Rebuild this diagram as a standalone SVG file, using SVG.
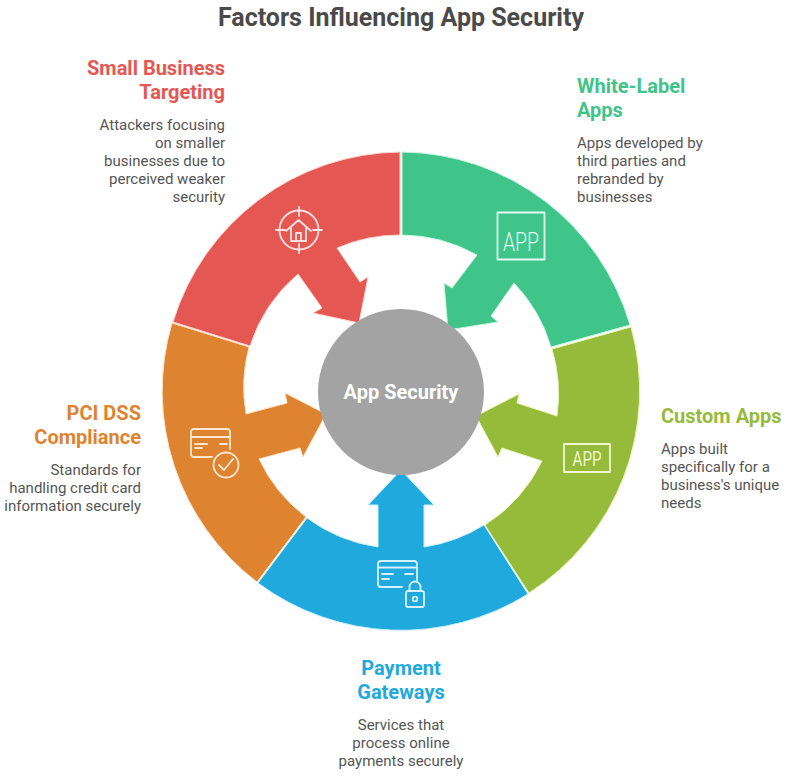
<svg xmlns="http://www.w3.org/2000/svg" width="790" height="777" viewBox="0 0 790 777">
<style>
text{font-family:Roboto,"Liberation Sans",sans-serif}
.title{font-size:25px;font-weight:700;fill:#4a4a4a;text-anchor:middle}
.head{font-size:20px;font-weight:700}
.desc{font-size:15px;fill:#555}
.end{text-anchor:end}.mid{text-anchor:middle}
.ico{fill:none;stroke-width:1.8;stroke-linecap:round;stroke-linejoin:round}
.app{font-size:25px;font-weight:300;text-anchor:middle}
</style>
<rect width="790" height="777" fill="#fff"/>
<text class="title" x="401" y="26">Factors Influencing App Security</text>
<g id="node-white-label">
<path fill="#3fc48a" stroke="#c5f5dd" stroke-width="1" d="M402 152A240 240 0 0 1 630 325L551 347A157 157 0 0 0 514 283L491 316L498 322L448 330L444 283L452 288L477 255A157 157 0 0 0 402 235Z"/>
<g class="ico" stroke="#e2faef"><rect x="497.500" y="212.500" width="47" height="47"/></g>
<text class="app" x="521" y="251" fill="#e2faef" textLength="36" lengthAdjust="spacingAndGlyphs">APP</text>
<text class="head" x="577" y="93" fill="#3fc48a">White-Label</text>
<text class="head" x="577" y="117" fill="#3fc48a">Apps</text>
<text class="desc" x="577" y="148">Apps developed by</text>
<text class="desc" x="577" y="166">third parties and</text>
<text class="desc" x="577" y="184">rebranded by</text>
<text class="desc" x="577" y="202">businesses</text>
</g>
<g id="node-custom">
<path fill="#96bb3b" stroke="#e6f5b5" stroke-width="1" d="M631 327A240 240 0 0 1 529 593L485 525A157 157 0 0 0 542 461L502 448L498 457L476 416L519 394L517 403L557 416A157 157 0 0 0 552 349Z"/>
<g class="ico" stroke="#eef7d2"><rect x="564" y="444" width="46" height="28"/></g>
<text class="app" x="587" y="466" style="font-size:20px;font-weight:400" fill="#eef7d2" textLength="29" lengthAdjust="spacingAndGlyphs">APP</text>
<text class="head" x="661" y="423" fill="#96bb3b">Custom Apps</text>
<text class="desc" x="661" y="454">Apps built</text>
<text class="desc" x="661" y="472">specifically for a</text>
<text class="desc" x="661" y="490">business's unique</text>
<text class="desc" x="661" y="508">needs</text>
</g>
<g id="node-payment">
<path fill="#1fa9dc" stroke="#c8eefb" stroke-width="1" d="M528 594A240 240 0 0 1 258 583L307 518A157 157 0 0 0 378 547L378 505L368 505L401 470L434 505L424 505L424 547A157 157 0 0 0 484 525Z"/>
<g class="ico" stroke="#d5f2fc">
<path d="M417 580V564a3 3 0 0 0-3-3H381a3 3 0 0 0-3 3V584a3 3 0 0 0 3 3H402M378 567.500H417M382 574H393M382 579H389M405 574H413"/>
<rect x="406" y="591" width="18" height="16" rx="2"/>
<path d="M409.500 591V587a5.500 5.500 0 0 1 11 0V591"/>
<circle cx="415" cy="599" r="2.300"/>
</g>
<text class="head mid" x="401" y="675" fill="#1fa9dc">Payment</text>
<text class="head mid" x="401" y="699" fill="#1fa9dc">Gateways</text>
<text class="desc mid" x="401" y="730">Services that</text>
<text class="desc mid" x="401" y="748">process online</text>
<text class="desc mid" x="401" y="766">payments securely</text>
</g>
<g id="node-pci">
<path fill="#de832f" stroke="#fbe2c6" stroke-width="1" d="M257 582A240 240 0 0 1 172 323L249 347A157 157 0 0 0 246 414L287 403L285 393L326 414L303 457L300 448L259 459A157 157 0 0 0 306 517Z"/>
<g class="ico" stroke="#fce6cf">
<path d="M230 449V432a3 3 0 0 0-3-3H194a3 3 0 0 0-3 3V454a3 3 0 0 0 3 3H212M191 437H230M195 444H207M195 448H202M220 444H227"/>
<circle cx="226" cy="465" r="12.500"/>
<path d="M219 465L224 470L233 459"/>
</g>
<text class="head end" x="141" y="420" fill="#de832f">PCI DSS</text>
<text class="head end" x="141" y="444" fill="#de832f">Compliance</text>
<text class="desc end" x="141" y="475">Standards for</text>
<text class="desc end" x="141" y="493">handling credit card</text>
<text class="desc end" x="141" y="511">information securely</text>
</g>
<g id="node-small-business">
<path fill="#e55753" stroke="#fbd5d0" stroke-width="1" d="M400 152A240 240 0 0 0 173 322L250 346A157 157 0 0 1 298 274L322 308L313 313L359 323L368 277L360 282L337 248A157 157 0 0 1 400 235Z"/>
<g class="ico" stroke="#fde3e0">
<circle cx="299" cy="230" r="19.500"/>
<path d="M299 207V216M299 244V253M276 230H285M313 230H322"/>
<path d="M286 231L298.500 220L311 231M291 228V241H306V228M296 241V233H301V241"/>
</g>
<text class="head end" x="225" y="75" fill="#e55753">Small Business</text>
<text class="head end" x="225" y="99" fill="#e55753">Targeting</text>
<text class="desc end" x="225" y="130">Attackers focusing</text>
<text class="desc end" x="225" y="148">on smaller</text>
<text class="desc end" x="225" y="166">businesses due to</text>
<text class="desc end" x="225" y="184">perceived weaker</text>
<text class="desc end" x="225" y="202">security</text>
</g>
<g id="node-center">
<circle cx="401" cy="392" r="83" fill="#a3a3a3"/>
<text class="head mid" x="401" y="399" fill="#fff">App Security</text>
</g>
<g id="connectors"/>
</svg>
